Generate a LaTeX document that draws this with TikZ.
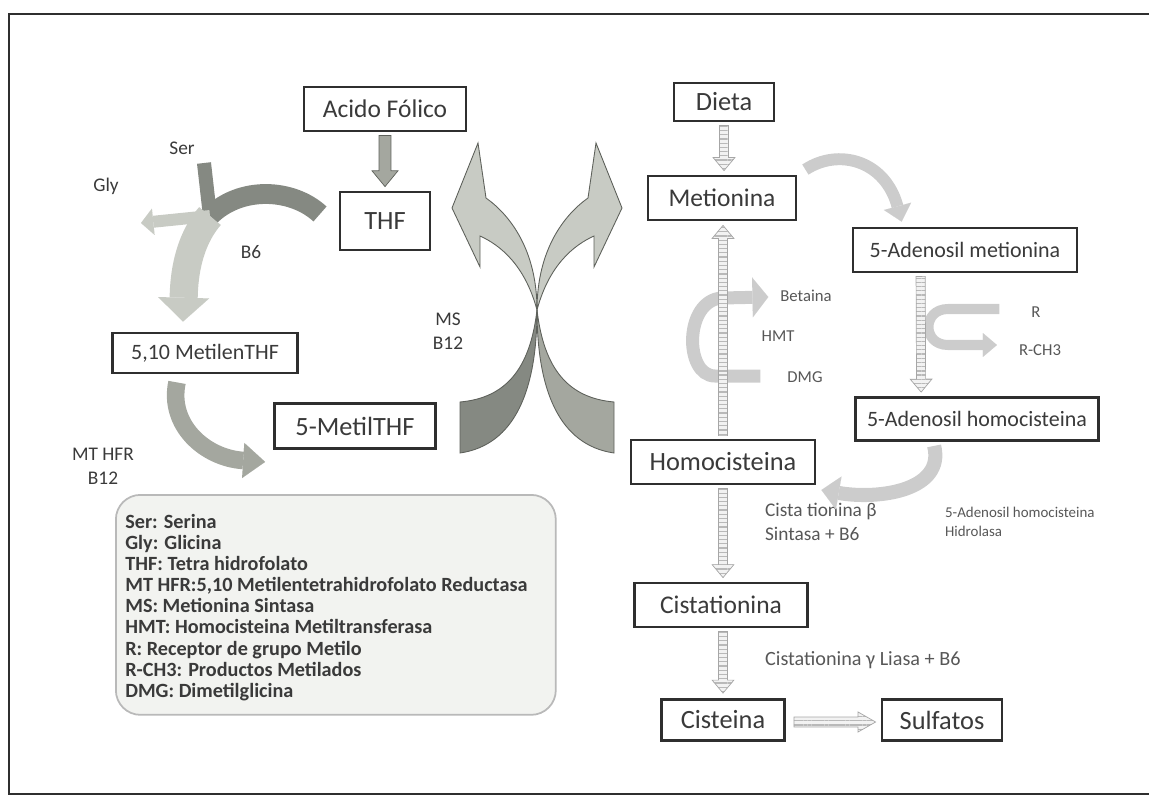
\documentclass[tikz,border=0pt]{standalone}
\usepackage{fontspec}
\setmainfont{Carlito}
\usetikzlibrary{calc,arrows.meta,patterns.meta}
\definecolor{lineax}{HTML}{2F2F2F}
\definecolor{textox}{HTML}{3A3A3A}
\definecolor{claro}{HTML}{C8CBC4}
\definecolor{medio}{HTML}{A4A79F}
\definecolor{oscuro}{HTML}{858982}
\definecolor{borde}{HTML}{5E615B}
\definecolor{fondoley}{HTML}{F2F3F0}
\newcommand{\cajafont}{\fontsize{12.5}{15}\selectfont}
\newcommand{\grandefont}{\fontsize{15}{18}\selectfont}
\newcommand{\etqfont}{\fontsize{11}{13.5}\selectfont}
\newcommand{\chicafont}{\fontsize{9.5}{11}\selectfont}
\newcommand{\leyfont}{\fontsize{11.5}{12}\selectfont\bfseries}
% flecha de bloque recta: [estilo]{inicio}{punta}
\newcommand{\barrow}[3][]{%
  \coordinate (ba) at (#2);
  \coordinate (bb) at (#3);
  \path[#1] ($(bb)!\hdl!(ba)$) coordinate (bh);
  \path[#1] ($(ba)!\shw!90:(bb)$) -- ($(bh)!\shw!-90:(ba)$) -- ($(bh)!\hdw!-90:(ba)$) -- (bb)
    -- ($(bh)!\hdw!90:(ba)$) -- ($(bh)!\shw!90:(ba)$) -- ($(ba)!\shw!-90:(bb)$) -- cycle;
}
\tikzset{
  shaftw/.store in=\shw, shaftw=2.6pt,
  headw/.store in=\hdw, headw=6.2pt,
  headl/.store in=\hdl, headl=7.4pt,
  caja/.style={draw=lineax,line width=1.6pt,fill=white,text=textox,font=\cajafont,inner sep=2pt},
  etq/.style={text=textox,font=\etqfont,inner sep=1pt},
  chica/.style={text=textox!85,font=\chicafont,inner sep=1pt,align=left},
  solido/.style={draw=borde,line width=0.4pt,fill=medio},
  rayado/.style={draw=gray!70,line width=0.4pt,preaction={fill=gray!10},
    pattern={Lines[angle=0,distance=2.4pt,line width=0.7pt]},pattern color=gray!55},
  xclaro/.style={draw=borde,line width=0.5pt,fill=claro},
  xoscuro/.style={draw=borde,line width=0.5pt,fill=oscuro},
  xmedio/.style={draw=borde,line width=0.5pt,fill=medio},
  curva/.style={draw=gray!40},
  marco/.style={draw=lineax,line width=1.2pt},
  leyenda/.style={draw=gray!55,line width=1pt,rounded corners=14pt,fill=fondoley}
}
\begin{document}
\begin{tikzpicture}[x=0.02cm,y=-0.02cm]
\useasboundingbox (0,0) rectangle (1149,801);
\draw[marco] (1149,14) -- (9,14) -- (9,794) -- (1149,794);

% ciclo del folato
\node[caja,font=\fontsize{14.5}{17}\selectfont,minimum width=3.24cm,minimum height=0.88cm] (acido) at (385,109) {Acido Fólico};
\node[caja,font=\grandefont,minimum width=1.8cm,minimum height=1.16cm] (thf) at (385,221) {THF};
\node[caja,minimum width=3.7cm,minimum height=0.8cm] (metilen) at (205,353) {5,10 MetilenTHF};
\node[caja,font=\grandefont,minimum width=3.22cm,minimum height=0.9cm] (metil) at (355,426) {5-MetilTHF};
\node[etq] (ser) at (182,148) {Ser};
\node[etq] (gly) at (106,186) {Gly};
\node[etq] (b6) at (251,252) {B6};
\node[etq,align=center] (ms) at (448,331) {MS\\B12};
\node[etq,align=center] (mthfr) at (103,466) {MT HFR\\B12};
\coordinate (nudo) at (210,216);
\coordinate (serin) at (204,163);
\coordinate (glyout) at (141,223);
\coordinate (cruce) at (537,310);

% ciclo de la metionina
\node[caja,font=\grandefont,minimum width=2.0cm,minimum height=0.76cm] (dieta) at (724,102) {Dieta};
\node[caja,font=\fontsize{14.5}{17}\selectfont,minimum width=2.96cm,minimum height=0.88cm] (metionina) at (722,198) {Metionina};
\node[caja,minimum width=4.48cm,minimum height=0.88cm] (sam) at (965,250) {5-Adenosil metionina};
\node[caja,minimum width=4.86cm,minimum height=0.86cm] (sah) at (977,419) {5-Adenosil homocisteina};
\node[caja,font=\grandefont,minimum width=3.68cm,minimum height=0.88cm] (homo) at (723,462) {Homocisteina};
\node[caja,font=\fontsize{14.5}{17}\selectfont,minimum width=3.46cm,minimum height=0.88cm] (cista) at (721,605) {Cistationina};
\node[caja,font=\grandefont,minimum width=2.46cm,minimum height=0.82cm] (cisteina) at (723,720) {Cisteina};
\node[caja,font=\grandefont,minimum width=2.4cm,minimum height=0.82cm] (sulfatos) at (942,720) {Sulfatos};
\node[chica] (betaina) at (806,296) {Betaina};
\node[chica] (hmt) at (778,336) {HMT};
\node[chica] (dmg) at (805,377) {DMG};
\node[chica] (r) at (1036,312) {R};
\node[chica] (rch3) at (1040,350) {R-CH3};
\node[chica,font=\etqfont,anchor=west,align=left] (cbs) at (763,522) {Cista tionina β\\Sintasa + B6};
\node[chica,font=\fontsize{8.5}{10.5}\selectfont,anchor=west] (hidro) at (943,522) {5-Adenosil homocisteina\\Hidrolasa};
\node[chica,font=\fontsize{11.5}{13}\selectfont,anchor=west] (cgl) at (763,660) {Cistationina γ Liasa + B6};

% leyenda
\node[leyenda,anchor=north west,minimum width=8.8cm,minimum height=4.4cm] (ley) at (115,494) {};
\node[anchor=north west,align=left,text=textox,font=\leyfont,inner sep=0pt] (leytxt) at ($(ley.north west)+(10,20)$)
  {Ser: Serina\\Gly: Glicina\\THF: Tetra hidrofolato\\MT HFR:5,10 Metilentetrahidrofolato Reductasa\\
   MS: Metionina Sintasa\\HMT: Homocisteina Metiltransferasa\\R: Receptor de grupo Metilo\\
   R-CH3: Productos Metilados\\DMG: Dimetilglicina};

% flechas del folato
\barrow[solido,shaftw=3.4pt,headw=7.4pt,headl=9pt]{$(acido.south)+(0,3)$}{$(thf.north)+(0,-4)$}
\draw[draw=oscuro,line width=8pt] (serin) -- (nudo);
\draw[draw=oscuro,line width=11.3pt] (320,214) .. controls (292,188) and (240,186) .. (nudo);
\draw[draw=claro,line width=6.8pt,-{Triangle[length=7pt,width=15pt,line width=0.01pt]}] (nudo) -- (glyout);
\draw[draw=claro,line width=16pt,-{Triangle[length=13.6pt,width=29pt,line width=0.01pt]}]
  (nudo) .. controls (185,245) and (184,285) .. ($(metilen.north)+(-22,-10)$);
\draw[draw=medio,line width=10pt,-{Triangle[length=12.5pt,width=20pt,line width=0.01pt]}]
  ($(metilen.south)+(-28,8)$) .. controls (168,425) and (205,458) .. ($(metil.south west)+(-8,12)$);

% la X (MS, B12)
\filldraw[xoscuro] (cruce) .. controls (530,370) and (505,398) .. (460,402) -- (460,453)
  .. controls (515,445) and (537,390) .. (cruce) -- cycle;
\filldraw[xmedio] (cruce) .. controls (544,370) and (569,398) .. (614,402) -- (614,453)
  .. controls (559,445) and (537,390) .. (cruce) -- cycle;
\filldraw[xclaro] (cruce) .. controls (537,250) and (510,215) .. (486,198) -- (478,143) -- (452,208)
  -- (480,267) -- (480,236) .. controls (500,245) and (525,265) .. (cruce) -- cycle;
\filldraw[xclaro] (cruce) .. controls (537,250) and (564,215) .. (588,198) -- (596,143) -- (622,208)
  -- (594,267) -- (594,236) .. controls (574,245) and (549,265) .. (cruce) -- cycle;

% flechas de la metionina
\draw[curva,line width=6.8pt,-{Triangle[length=9pt,width=16pt,line width=0.01pt]}]
  ($(metionina.north east)+(8,-5)$) .. controls (838,148) and (885,160) .. ($(sam.north west)+(50,-5)$);
\draw[curva,line width=8pt,-{Triangle[length=10pt,width=19pt,line width=0.01pt]}]
  ($(sah.south west)+(80,4)$) .. controls (945,490) and (880,500) .. ($(homo.east)+(5,28)$);
\draw[curva,line width=7.4pt,-{Triangle[length=9pt,width=22.7pt,line width=0.01pt]}]
  ($(dmg.west)+(-25,-1)$) -- (715,376) .. controls (684,376) and (684,300) .. (722,298) -- ($(betaina.west)+(-10,1)$);
\draw[curva,line width=5.7pt,-{Triangle[length=8pt,width=13.6pt,line width=0.01pt]}]
  ($(r.west)+(-30,-3)$) -- (948,309) .. controls (922,309) and (922,345) .. (948,345) -- ($(rch3.west)+(-20,-5)$);
\barrow[rayado]{$(dieta.south)+(0,3)$}{$(metionina.north)+(2,-4)$}
\barrow[rayado]{$(homo.north)+(0,-3)$}{$(metionina.south)+(1,4)$}
\barrow[rayado]{$(sam.south west)+(69,3)$}{$(sah.north west)+(67,-4)$}
\barrow[rayado]{$(homo.south)+(0,3)$}{$(cista.north)+(2,-4)$}
\barrow[rayado]{$(cista.south)+(2,3)$}{$(cisteina.north)+(0,-5)$}
\barrow[rayado,shaftw=2.8pt,headw=5.7pt,headl=10pt]{$(cisteina.east)+(8,2)$}{$(sulfatos.west)+(-5,2)$}
\end{tikzpicture}
\end{document}
